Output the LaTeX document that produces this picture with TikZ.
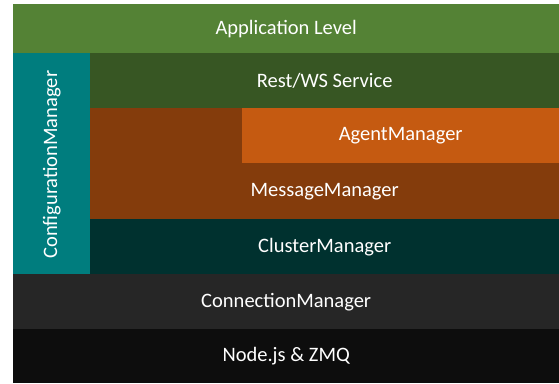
\documentclass[tikz,border=0pt]{standalone}
\usepackage{fontspec}
\setmainfont{Carlito}
\usetikzlibrary{positioning}
\definecolor{appgreen}{HTML}{548235}
\definecolor{restgreen}{HTML}{375623}
\definecolor{msgbrown}{HTML}{843C0C}
\definecolor{agentorange}{HTML}{C55A11}
\definecolor{clusterteal}{HTML}{00312F}
\definecolor{conngray}{HTML}{262626}
\definecolor{nodeblack}{HTML}{0D0D0D}
\definecolor{configteal}{HTML}{007D7E}
\tikzset{layer/.style={rectangle, inner sep=0pt, anchor=north west, text=white,
 font=\fontsize{20.5}{24}\selectfont, fill=#1}}

\begin{document}
\begin{tikzpicture}[x=1pt, y=-1pt]

\useasboundingbox [fill=white] (0,0) rectangle (559,383);

\node [layer=appgreen, minimum width=546pt, minimum height=49pt] (app) at (13,4) {Application Level};
\node [layer=configteal, minimum width=77pt, minimum height=221pt] (config) at (13,53) {};
\node [rotate=90, text=white, font=\fontsize{20.5}{24}\selectfont] (configtext) at ([yshift=-1pt]config.center) {ConfigurationManager};
\node [layer=restgreen, minimum width=469pt, minimum height=55pt] (rest) at (90,53) {Rest/WS Service};
\fill [msgbrown] (90,108) rectangle (242,163);
\node [layer=agentorange, minimum width=317pt, minimum height=55pt] (agent) at (242,108) {AgentManager};
\node [layer=msgbrown, minimum width=469pt, minimum height=56pt] (msg) at (90,163) {MessageManager};
\node [layer=clusterteal, minimum width=469pt, minimum height=55pt] (cluster) at (90,219) {ClusterManager};
\node [layer=conngray, minimum width=546pt, minimum height=55pt] (conn) at (13,274) {ConnectionManager};
\node [layer=nodeblack, minimum width=546pt, minimum height=54pt] (base) at (13,329) {Node.js \& ZMQ};
\end{tikzpicture}
\end{document}
